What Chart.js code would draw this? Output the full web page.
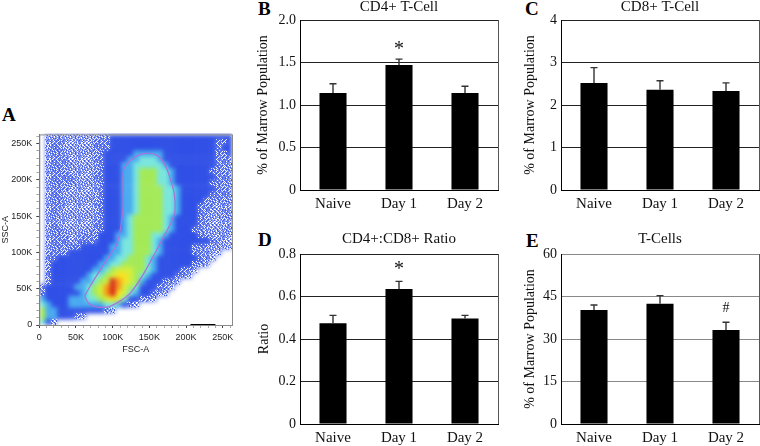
<!DOCTYPE html>
<html>
<head>
<meta charset="utf-8">
<script src="https://cdn.jsdelivr.net/npm/chart.js@4"></script>
<style>
    html, body { margin: 0; background: #fff; }
    body { position: relative; width: 760px; height: 446px; overflow: hidden; }
    canvas { position: absolute; }
    #chartDensity { filter: blur(2px); clip-path: inset(8px 8px 35.7px 39.3px); }
    .tag { position: absolute; font: bold 19px/19px 'Liberation Serif', serif; color: #000; }
</style>
</head>
<body>
<div class="tag" style="left:2px;top:105px">A</div>
<div class="tag" style="left:258px;top:-1px">B</div>
<div class="tag" style="left:525px;top:-1px">C</div>
<div class="tag" style="left:258px;top:230px">D</div>
<div class="tag" style="left:526px;top:231px">E</div>
<canvas id="chartDensity" width="240" height="236" style="left:0;top:125px"></canvas>
<canvas id="chartA" width="240" height="236" style="left:0;top:125px"></canvas>
<canvas id="chartB" width="252" height="220" style="left:250px;top:0"></canvas>
<canvas id="chartC" width="250" height="220" style="left:510px;top:0"></canvas>
<canvas id="chartD" width="252" height="214" style="left:250px;top:232px"></canvas>
<canvas id="chartE" width="250" height="214" style="left:510px;top:232px"></canvas>
<script>
const days = ['Naive', 'Day 1', 'Day 2'];

const cd4Vals = [1.14, 1.47, 1.14];
const cd4Tops = [1.25, 1.54, 1.22];
const cd4Marks = ['', '*', ''];
const cd4MarkAt = [0, 1.647, 0];

const cd8Vals = [2.52, 2.36, 2.33];
const cd8Tops = [2.88, 2.57, 2.52];

const ratioVals = [0.474, 0.635, 0.496];
const ratioTops = [0.511, 0.671, 0.511];
const ratioMarks = ['', '*', ''];
const ratioMarkAt = [0, 0.724, 0];

const tcellVals = [40.2, 42.4, 33.2];
const tcellTops = [42, 45.3, 35.9];
const tcellMarks = ['', '', '#'];
const tcellMarkAt = [0, 0, 40.9];

// FSC-A / SSC-A density, one string per row from 260K down to 4K,
// one char per 8K bin of FSC-A. a,b = sparse speckle, 2..9 = colour level
const densityRows = [
    '.aabaabaabbb222222222222222222222',
    '.abbaaaaabbb222222222222222222bb2',
    '.abbaaaaabbb222222222222222222b22',
    '.abbaaaaabb2222233333222222222bb2',
    '.abbbaaaabb2222334443222222222bbb',
    '.abbbaaaaab2223344444322222222bbb',
    '.abbbaaaabb222334555443222222bbbb',
    '.abbbbaaabb2223345554432222222bbb',
    '.abbbbaaaab222334555443222222bbbb',
    '.abbbaaaaab2223345555443222222bbb',
    '.abbaaaaaab222334555544322222bbbb',
    '.abbaaaaabb22233455554432222bbbbb',
    '.abbaaaaaab2223345555443222bbbaab',
    '.abaaaaaaab2223345555443222bbaabb',
    '.abaaaaaaab2223455555432222bbaabb',
    '.abaaaaaabb2223455555432222bbaaab',
    '.abbaaaaabb222345555543222bbaaaab',
    '.abbbaabbb22233455544322222bbaaaa',
    '.abbbabbbb2223445554322222222bbaa',
    '.abbbbb2222233445554322222bbbaaaa',
    '.bbbb222222233445554322222bbaaa',
    '.bb222222223344555432222222bba',
    '.b222222223344555543222222bba',
    '.b2222222334566655432222bba',
    '.b222222344567765432222bba',
    '.b2222233456987653222bba',
    'b22222334568986542' + '22bba',
    'b222222345689764322bba',
    '32222333445676422bba',
    '432223333334432ba',
    '53322222222ba',
    '533222ba',
    '42a'
];
const binSize = 8;

// gate outline in FSC-A / SSC-A thousands
const gateX = [62, 69, 83, 96, 106, 111, 114, 114, 115, 126, 142, 160, 171, 178, 184, 185, 180, 169, 155, 140, 124, 110, 94, 78, 67, 62];
const gateY = [40, 53, 76, 96, 112, 135, 162, 190, 214, 228, 236, 234, 221, 203, 180, 158, 142, 121, 94, 67, 44, 33, 25, 25, 30, 40];
const axisMarkX = [206, 240];
const axisMarkY = [0, 0];

const levelColors = {
    a: '#8596f0', b: '#6a80ee', 2: '#2f4fe6', 3: '#48aaf0', 4: '#78e6dc',
    5: '#a4ea58', 6: '#d2ee3c', 7: '#f6e01e', 8: '#f59a16', 9: '#d9301a'
};

// speckle texture for the sparse bins: w = white dot, d = blue dot
const speckleTile = [
    'w.dw..wwd.w..wd.',
    '.wwd.w..wwd.dw.w',
    'dw..wwd.w..w.wwd',
    'w.w.d.w.dwwd..w.',
    '.dwwd.wwd.w.w.dw',
    'wd..w.d.w.dw.wd.',
    '.wwd.wwd.w..wd.w',
    'd.w.w..d.wwd.w.w',
    'w.dwwd.w.d.w.wd.',
    '.wd..w.wwd.wwd.w',
    'w.wwd.d.w.d..wwd',
    '.d.w.wwd.wwd.w..',
    'wwd.d.w.w..dwwd.',
    '.w.wwd.d.wwd.w.w',
    'd.w..w.wwd.w.dw.',
    '.wwd.wd.w.dw.w.d'
];

const SERIF = "'Liberation Serif', serif";
const SANS = "'Liberation Sans', sans-serif";

// upper error bars, significance marks and the frame
const barExtras = {
    id: 'barExtras',
    afterDatasetsDraw(chart, args, opts) {
        const { ctx, chartArea, scales: { x, y } } = chart;
        ctx.save();
        ctx.strokeStyle = '#333';
        ctx.lineWidth = 1.4;
        opts.tops.forEach((top, i) => {
            const px = x.getPixelForValue(i);
            const p0 = y.getPixelForValue(chart.data.datasets[0].data[i]);
            const p1 = y.getPixelForValue(top);
            ctx.beginPath();
            ctx.moveTo(px, p0); ctx.lineTo(px, p1);
            ctx.moveTo(px - 3.5, p1); ctx.lineTo(px + 3.5, p1);
            ctx.stroke();
        });
        ctx.fillStyle = '#111';
        ctx.textAlign = 'center';
        ctx.textBaseline = 'middle';
        (opts.marks || []).forEach((m, i) => {
            if (!m) return;
            ctx.font = (m === '*' ? '20px ' : '14px ') + SERIF;
            ctx.fillText(m, x.getPixelForValue(i), y.getPixelForValue(opts.markAt[i]));
        });
        ctx.strokeStyle = '#555';
        ctx.lineWidth = 1;
        ctx.beginPath();
        ctx.moveTo(chartArea.right + .5, chartArea.top);
        ctx.lineTo(chartArea.right + .5, chartArea.bottom);
        ctx.stroke();
        ctx.restore();
    }
};

function barPanel(id, cfg) {
    return new Chart(document.getElementById(id), {
        type: 'bar',
        data: {
            labels: days,
            datasets: [{ data: cfg.vals, backgroundColor: '#000', barPercentage: .41, categoryPercentage: 1 }]
        },
        plugins: [barExtras],
        options: {
            animation: false, responsive: false,
            layout: { padding: { right: cfg.padRight } },
            plugins: {
                legend: { display: false },
                tooltip: { enabled: false },
                title: {
                    display: true, text: cfg.title, color: '#111', fullSize: false,
                    font: { family: SERIF, size: 15, weight: 'normal', lineHeight: 1 },
                    padding: { top: 0, bottom: cfg.titleGap }
                },
                barExtras: { tops: cfg.tops, marks: cfg.marks, markAt: cfg.markAt }
            },
            scales: {
                x: {
                    afterFit: (s) => { s.height = cfg.axisH; },
                    grid: { display: false, drawTicks: false },
                    border: { color: '#000', width: 1 },
                    ticks: { color: '#111', font: { family: SERIF, size: 15 }, padding: 5, maxRotation: 0, autoSkip: false }
                },
                y: {
                    min: 0, max: cfg.max,
                    afterFit: (s) => { s.width = cfg.axisW; },
                    border: { color: '#000', width: 1 },
                    grid: { color: cfg.gridColor, drawTicks: false, lineWidth: 1 },
                    title: {
                        display: true, text: cfg.yTitle, color: '#111',
                        font: { family: SERIF, size: 14 }, padding: { top: cfg.yTitlePad, bottom: 0 }
                    },
                    ticks: {
                        stepSize: cfg.step, color: '#111', padding: 4,
                        font: { family: SERIF, size: 14 },
                        callback: (v) => (v === 0 ? '0' : v.toFixed(cfg.digits))
                    }
                }
            }
        }
    });
}

barPanel('chartB', { vals: cd4Vals, tops: cd4Tops, marks: cd4Marks, markAt: cd4MarkAt, title: 'CD4+ T-Cell', yTitle: '% of Marrow Population', max: 2, step: .5, digits: 1, gridColor: '#222', axisW: 50, axisH: 30, padRight: 4, titleGap: 5, yTitlePad: 5 });
barPanel('chartC', { vals: cd8Vals, tops: cd8Tops, title: 'CD8+ T-Cell', yTitle: '% of Marrow Population', max: 4, step: 1, digits: 0, gridColor: '#222', axisW: 51, axisH: 30, padRight: 1, titleGap: 5, yTitlePad: 12 });
barPanel('chartD', { vals: ratioVals, tops: ratioTops, marks: ratioMarks, markAt: ratioMarkAt, title: 'CD4+:CD8+ Ratio', yTitle: 'Ratio', max: .8, step: .2, digits: 1, gridColor: '#222', axisW: 50, axisH: 22, padRight: 4, titleGap: 7, yTitlePad: 6 });
barPanel('chartE', { vals: tcellVals, tops: tcellTops, marks: tcellMarks, markAt: tcellMarkAt, title: 'T-Cells', yTitle: '% of Marrow Population', max: 60, step: 15, digits: 0, gridColor: '#888', axisW: 51, axisH: 22, padRight: 1, titleGap: 7, yTitlePad: 12 });

// panel A: one scatter set per colour level, on its own blurred layer under the axes
function cellsFor(key) {
    const data = [];
    densityRows.forEach((row, r) => {
        [...row].forEach((c, i) => {
            if (c === key) data.push({ x: binSize * i + binSize / 2, y: binSize * (densityRows.length - r) - binSize / 2 });
        });
    });
    return data;
}

const levelKeys = ['9', '8', '7', '6', '5', '4', '3', '2', 'b', 'a'];
const densitySets = levelKeys.map((key, n) => ({
    label: key, data: cellsFor(key), pointStyle: 'rect', pointRadius: 4.4, borderWidth: 0,
    backgroundColor: levelColors[key], order: n + 1
}));

function speckle(keepWhite) {
    const tile = document.createElement('canvas');
    tile.width = tile.height = speckleTile.length;
    const g = tile.getContext('2d');
    speckleTile.forEach((row, y) => {
        [...row].forEach((c, x) => {
            if (c === 'd') g.fillStyle = '#3a58e8';
            else if (c === 'w' && keepWhite(x, y)) g.fillStyle = '#fff';
            else return;
            g.fillRect(x, y, 1, 1);
        });
    });
    return g.createPattern(tile, 'repeat');
}

const speckleSets = [
    { label: 'a', data: cellsFor('a'), backgroundColor: speckle((x, y) => (x + y) % 4 !== 0) },
    { label: 'b', data: cellsFor('b'), backgroundColor: speckle((x, y) => (x + y) % 2 === 0) }
].map((d) => ({ ...d, pointStyle: 'rect', pointRadius: 4.15, borderWidth: 0 }));

const scatterAxis = (titleText, fit, ink) => ({
    type: 'linear', min: 0, max: 262.6,
    afterFit: fit,
    grid: { drawOnChartArea: false, tickLength: 3, color: (c) => (ink ? (c.tick.value % 50 === 0 ? '#444' : '#aaa') : 'transparent') },
    border: { color: ink ? '#666' : 'transparent' },
    title: { display: true, text: titleText, color: ink ? '#222' : 'transparent', font: { family: SANS, size: 9 }, padding: { top: 0, bottom: 6 } },
    ticks: {
        stepSize: 10, includeBounds: false, autoSkip: false, maxRotation: 0, color: ink ? '#222' : 'transparent', padding: 4,
        font: { family: SANS, size: 9 },
        callback: (v) => (v === 0 ? '0' : v % 50 === 0 ? v + 'K' : '')
    }
});
const fitX = (s) => { s.height = 36; };
const fitY = (s) => { s.width = 39.3; };

const frame = {
    id: 'frame',
    afterDatasetsDraw(chart) {
        const { ctx, chartArea: a } = chart;
        ctx.save();
        ctx.strokeStyle = '#8a8a8a';
        ctx.lineWidth = 1;
        ctx.strokeRect(a.left + .5, a.top + .5, a.right - a.left, a.bottom - a.top);
        ctx.restore();
    }
};

new Chart(document.getElementById('chartDensity'), {
    type: 'scatter',
    data: { datasets: densitySets },
    options: {
        animation: false, responsive: false,
        layout: { padding: { right: 8, top: 8 } },
        plugins: { legend: { display: false }, tooltip: { enabled: false } },
        scales: { x: scatterAxis('FSC-A', fitX, false), y: scatterAxis('SSC-A', fitY, false) }
    }
});

new Chart(document.getElementById('chartA'), {
    type: 'scatter',
    data: {
        datasets: [
            {
                label: 'gate', data: gateX.map((x, i) => ({ x, y: gateY[i] })), showLine: true,
                borderColor: '#a873d8', borderWidth: 1.2, pointRadius: 0, tension: .3
            },
            {
                label: 'axis mark', data: axisMarkX.map((x, i) => ({ x, y: axisMarkY[i] })), showLine: true,
                borderColor: '#000', borderWidth: 2, pointRadius: 0
            },
            ...speckleSets
        ]
    },
    plugins: [frame],
    options: {
        animation: false, responsive: false,
        layout: { padding: { right: 8, top: 8 } },
        plugins: { legend: { display: false }, tooltip: { enabled: false } },
        scales: { x: scatterAxis('FSC-A', fitX, true), y: scatterAxis('SSC-A', fitY, true) }
    }
});
</script>
</body>
</html>
